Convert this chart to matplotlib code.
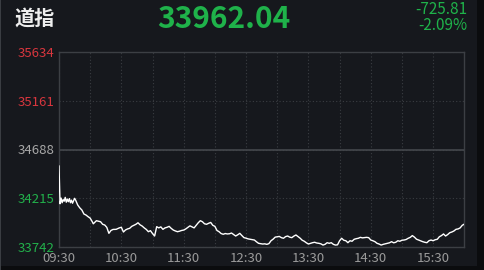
import matplotlib
matplotlib.use("Agg")
import matplotlib.pyplot as plt
from matplotlib.patches import Rectangle

plt.rcParams['font.family'] = ['Noto Sans CJK SC', 'DejaVu Sans']

# 道指 intraday, minutes after 09:30
mins = [0, 1, 2, 3, 4, 5, 6, 7, 8, 9, 10, 11, 12, 13, 14, 15, 16, 18, 20, 22,
        24, 26, 28, 30, 32, 33, 36, 38, 40, 42, 44, 46, 48, 50, 52, 55, 58, 60, 62, 64,
        66, 68, 70, 72, 74, 76, 78, 80, 82, 84, 86, 88, 90, 92, 94, 96, 98, 100, 102, 104,
        106, 108, 110, 112, 114, 116, 118, 120, 122, 124, 126, 128, 130, 132, 134, 136, 138, 140, 142, 144,
        146, 148, 150, 152, 154, 156, 158, 160, 162, 164, 166, 168, 170, 172, 174, 176, 178, 180, 182, 184,
        186, 188, 190, 192, 194, 196, 198, 200, 202, 204, 206, 208, 210, 212, 214, 216, 218, 220, 222, 224,
        226, 228, 230, 232, 234, 236, 238, 240, 242, 244, 246, 248, 250, 252, 254, 256, 258, 260, 262, 264,
        266, 268, 270, 272, 274, 276, 278, 280, 282, 284, 286, 288, 290, 292, 294, 296, 298, 300, 302, 304,
        306, 308, 310, 312, 314, 316, 318, 320, 322, 324, 326, 328, 330, 332, 334, 336, 338, 340, 342, 344,
        346, 348, 350, 352, 354, 356, 358, 360, 362, 364, 366, 368, 370, 372, 374, 376, 378, 380, 382, 384,
        386, 388, 390]
vals = [34527, 34160, 34215, 34170, 34200, 34185, 34222, 34175, 34205, 34180, 34210, 34170, 34195, 34165, 34190, 34213, 34195, 34148, 34120, 34099,
        34060, 34050, 34034, 34020, 33985, 33965, 33995, 33990, 33985, 33960, 33953, 33930, 33872, 33900, 33910, 33911, 33925, 33931, 33885, 33905,
        33915, 33921, 33940, 33950, 33960, 33975, 33955, 33943, 33925, 33910, 33888, 33898, 33870, 33846, 33937, 33925, 33935, 33911, 33925, 33931,
        33940, 33920, 33904, 33895, 33888, 33893, 33900, 33904, 33915, 33930, 33945, 33935, 33925, 33950, 33975, 33995, 33985, 33965, 33960, 33970,
        33978, 33950, 33940, 33900, 33888, 33870, 33863, 33870, 33866, 33868, 33875, 33860, 33846, 33858, 33872, 33850, 33830, 33825, 33818, 33814,
        33810, 33807, 33790, 33775, 33772, 33768, 33770, 33765, 33772, 33800, 33815, 33835, 33839, 33842, 33830, 33824, 33840, 33846, 33835, 33830,
        33845, 33856, 33840, 33825, 33805, 33795, 33780, 33768, 33775, 33781, 33785, 33778, 33775, 33770, 33758, 33765, 33781, 33775, 33781, 33765,
        33758, 33760, 33800, 33824, 33805, 33800, 33781, 33800, 33795, 33814, 33820, 33824, 33833, 33828, 33830, 33833, 33830, 33807, 33800, 33791,
        33775, 33768, 33758, 33765, 33770, 33775, 33780, 33791, 33780, 33785, 33800, 33795, 33805, 33807, 33812, 33824, 33833, 33850, 33835, 33815,
        33807, 33800, 33791, 33785, 33781, 33800, 33807, 33800, 33810, 33814, 33839, 33850, 33866, 33846, 33860, 33878, 33885, 33895, 33911, 33915,
        33925, 33950, 33962]

y_levels = [33742, 34215, 34688, 35161, 35634]
y_colors = ['#22b04b', '#22b04b', '#a8a8a8', '#d9363e', '#d9363e']
x_ticks = [0, 60, 120, 180, 240, 300, 360]
x_labels = ['09:30', '10:30', '11:30', '12:30', '13:30', '14:30', '15:30']
prev_close = 34688

bg = '#16181d'
grid_c = '#3a3d42'
green = '#1fb24a'

fig = plt.figure(figsize=(4.85, 2.70), dpi=100, facecolor=bg)
# dark band on right and bottom edges, thin line on left
fig.patches.append(Rectangle((477 / 485, 0), 8 / 485, 1, transform=fig.transFigure,
                             facecolor='#0b0c0e', edgecolor='none', zorder=-1))
fig.patches.append(Rectangle((0, 0), 1, 4 / 270, transform=fig.transFigure,
                             facecolor='#0b0c0e', edgecolor='none', zorder=-1))
fig.patches.append(Rectangle((0, 0), 1.5 / 485, 1, transform=fig.transFigure,
                             facecolor='#3a3d42', edgecolor='none', zorder=-1))

ax = fig.add_axes([59 / 485, 23.3 / 270, 405.3 / 485, 194.4 / 270])
ax.set_facecolor(bg)

ax.set_xlim(0, 390)
ax.set_ylim(y_levels[0], y_levels[-1])
ax.set_xticks(x_ticks)
ax.set_xticklabels(x_labels)
ax.set_xticks([30, 90, 150, 210, 270, 330], minor=True)
ax.set_yticks(y_levels)
ax.set_yticklabels([str(v) for v in y_levels])
for lab, c in zip(ax.get_yticklabels(), y_colors):
    lab.set_color(c)

ax.tick_params(axis='both', which='both', length=0)
ax.tick_params(axis='y', pad=3, labelsize=9.5)
ax.tick_params(axis='x', pad=4, labelsize=9.5, colors='#9a9a9a')

ax.grid(True, axis='x', which='both', color=grid_c, linestyle=(0, (1, 2)), linewidth=0.8)
ax.grid(True, axis='y', which='major', color=grid_c, linestyle=(0, (1, 2)), linewidth=0.8)
ax.axhline(prev_close, color='#44474c', linewidth=1.2, zorder=2)

for s in ax.spines.values():
    s.set_color('#3c3f44')
    s.set_linewidth(1.0)

ax.plot(mins, vals, color='white', linewidth=1.0, zorder=3)

# header
fig.text(14 / 485, 1 - 18 / 270, '道指', color='#eeeeee', fontsize=14.5,
         fontweight='bold', ha='left', va='center')
fig.text(224 / 485, 1 - 19 / 270, '33962.04', color=green, fontsize=21.5,
         fontweight='bold', ha='center', va='center')
fig.text(467 / 485, 1 - 17.5 / 270, '-725.81\n-2.09%', color=green, fontsize=11,
         fontweight='light', ha='right', va='center', multialignment='right',
         linespacing=0.95)

fig.savefig('out.png', dpi=100, facecolor=fig.get_facecolor())
